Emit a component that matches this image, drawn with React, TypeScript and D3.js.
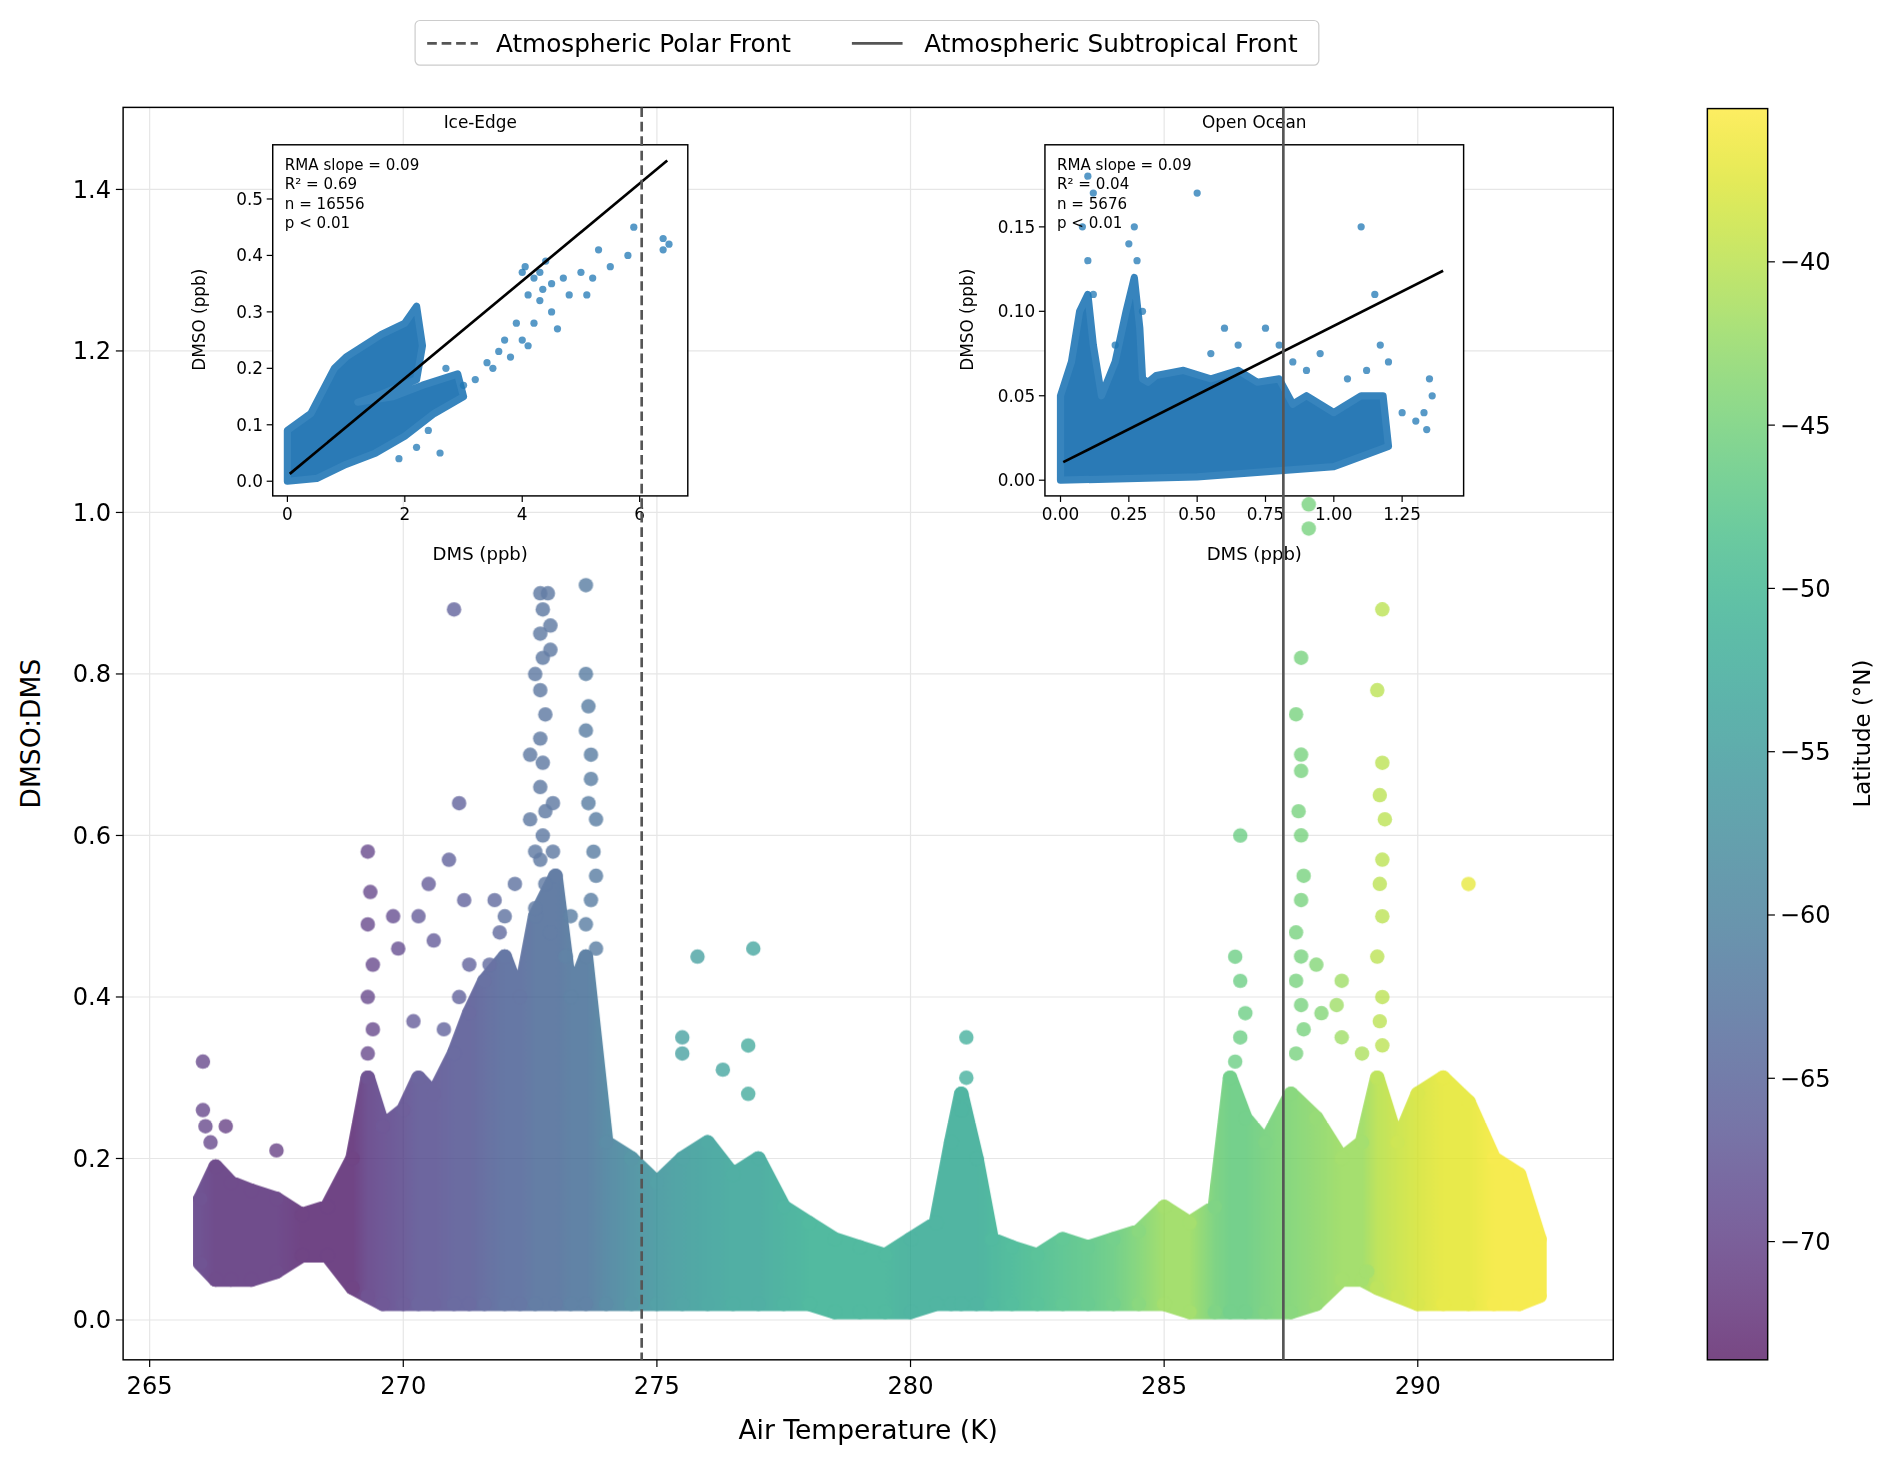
import * as d3 from "d3";

// Dense band of the main scatter: [temperature K, low, high, latitude]
const bandT = [266, 266.3, 266.6, 267, 267.5, 268, 268.5, 269, 269.3, 269.6, 270, 270.3, 270.6, 271, 271.3, 271.6, 272, 272.3, 272.6, 273, 273.3, 273.6, 274, 274.5, 275, 275.5, 276, 276.5, 277, 277.5, 278, 278.5, 279, 279.5, 280, 280.5, 280.8, 281, 281.3, 281.6, 282, 282.5, 283, 283.5, 284, 284.5, 285, 285.5, 286, 286.3, 286.6, 287, 287.5, 288, 288.5, 288.9, 289.2, 289.6, 290, 290.5, 291, 291.5, 292, 292.4];
const bandLow = [0.07, 0.05, 0.05, 0.05, 0.06, 0.08, 0.08, 0.04, 0.03, 0.02, 0.02, 0.02, 0.02, 0.02, 0.02, 0.02, 0.02, 0.02, 0.02, 0.02, 0.02, 0.02, 0.02, 0.02, 0.02, 0.02, 0.02, 0.02, 0.02, 0.02, 0.02, 0.01, 0.01, 0.01, 0.01, 0.02, 0.02, 0.02, 0.02, 0.02, 0.02, 0.02, 0.02, 0.02, 0.02, 0.02, 0.02, 0.01, 0.01, 0.01, 0.01, 0.01, 0.01, 0.02, 0.05, 0.05, 0.04, 0.03, 0.02, 0.02, 0.02, 0.02, 0.02, 0.03];
const bandHigh = [0.15, 0.19, 0.17, 0.16, 0.15, 0.13, 0.14, 0.2, 0.3, 0.24, 0.26, 0.3, 0.28, 0.33, 0.38, 0.42, 0.45, 0.4, 0.5, 0.55, 0.4, 0.45, 0.22, 0.2, 0.17, 0.2, 0.22, 0.18, 0.2, 0.14, 0.12, 0.1, 0.09, 0.08, 0.1, 0.12, 0.22, 0.28, 0.2, 0.1, 0.09, 0.08, 0.1, 0.09, 0.1, 0.11, 0.14, 0.12, 0.14, 0.3, 0.25, 0.22, 0.28, 0.25, 0.2, 0.22, 0.3, 0.22, 0.28, 0.3, 0.27, 0.2, 0.18, 0.1];
const bandLat = [-70, -71, -71, -71, -71, -72, -72, -72, -70, -69, -68, -67, -67, -66, -66, -65, -64, -64, -63, -63, -62, -62, -60, -58, -56, -55, -54, -53, -53, -52, -51, -51, -51, -51, -52, -52, -52, -52, -52, -51, -50, -49, -48, -47, -46, -44, -42, -42, -45, -46, -46, -45, -44, -43, -42, -42, -40, -39, -38, -37, -37, -36, -36, -36];

// Outlying points: [temperature, ratio, latitude]
const outliers: [number, number, number][] = [
  [266.05, 0.32, -70], [266.05, 0.26, -70], [266.1, 0.24, -70], [266.2, 0.22, -70], [266.5, 0.24, -71], [267.5, 0.21, -71],
  [269.3, 0.58, -70], [269.35, 0.53, -70], [269.3, 0.49, -70], [269.4, 0.44, -70], [269.3, 0.4, -70], [269.4, 0.36, -70], [269.3, 0.33, -70],
  [269.8, 0.5, -69], [269.9, 0.46, -69], [270.3, 0.5, -67], [270.5, 0.54, -67], [270.6, 0.47, -67], [270.2, 0.37, -67], [270.8, 0.36, -66],
  [271.0, 0.88, -66], [270.9, 0.57, -66], [271.1, 0.64, -66], [271.2, 0.52, -66], [271.3, 0.44, -66], [271.1, 0.4, -66],
  [271.8, 0.52, -65], [271.9, 0.48, -65], [271.7, 0.44, -65], [272.2, 0.54, -64], [272.0, 0.5, -64],
  [272.5, 0.62, -63], [272.5, 0.7, -63], [272.6, 0.8, -63], [272.7, 0.9, -63], [272.75, 0.88, -63], [272.7, 0.85, -63],
  [272.75, 0.82, -63], [272.7, 0.78, -63], [272.8, 0.75, -63], [272.9, 0.86, -63], [272.85, 0.9, -63], [272.9, 0.83, -63],
  [272.7, 0.72, -63], [272.75, 0.69, -63], [272.7, 0.66, -63], [272.8, 0.63, -63], [272.75, 0.6, -63], [272.7, 0.57, -63], [272.8, 0.54, -63],
  [272.6, 0.51, -63], [272.9, 0.48, -63], [272.95, 0.64, -63], [272.95, 0.58, -63], [272.6, 0.58, -63],
  [273.6, 0.91, -62], [273.6, 0.8, -62], [273.65, 0.76, -62], [273.6, 0.73, -62], [273.7, 0.7, -62], [273.65, 0.64, -62],
  [273.8, 0.62, -62], [273.75, 0.58, -62], [273.8, 0.55, -62], [273.7, 0.52, -62], [273.6, 0.49, -62], [273.8, 0.46, -62], [273.7, 0.67, -62],
  [273.2, 0.45, -62], [273.3, 0.5, -62],
  [275.8, 0.45, -55], [276.9, 0.46, -54], [275.5, 0.35, -55], [275.5, 0.33, -55], [276.8, 0.34, -53], [276.3, 0.31, -54], [276.8, 0.28, -53],
  [281.1, 0.35, -52], [281.1, 0.3, -52], [281.0, 0.26, -52],
  [286.5, 0.6, -46], [286.4, 0.45, -46], [286.5, 0.42, -46], [286.6, 0.38, -46], [286.5, 0.35, -46], [286.4, 0.32, -46],
  [287.7, 0.82, -45], [287.6, 0.75, -45], [287.7, 0.7, -45], [287.7, 0.68, -45], [287.65, 0.63, -45], [287.7, 0.6, -45],
  [287.75, 0.55, -45], [287.7, 0.52, -45], [287.6, 0.48, -45], [287.7, 0.45, -45], [287.85, 0.98, -45], [287.85, 1.01, -45],
  [287.6, 0.42, -45], [287.7, 0.39, -45], [287.75, 0.36, -45], [287.6, 0.33, -45], [288.0, 0.44, -44], [288.1, 0.38, -44],
  [289.3, 0.88, -40], [289.2, 0.78, -40], [289.3, 0.69, -40], [289.25, 0.65, -40], [289.35, 0.62, -40], [289.3, 0.57, -40],
  [289.25, 0.54, -40], [289.3, 0.5, -40], [289.2, 0.45, -40], [289.3, 0.4, -40], [289.25, 0.37, -40], [289.3, 0.34, -40], [291.0, 0.54, -37],
  [288.5, 0.42, -42], [288.4, 0.39, -42], [288.5, 0.35, -42], [289.0, 0.06, -42], [288.9, 0.33, -41],
];

// Ice-Edge inset
const ice1Poly: [number, number][] = [[0, 0], [0, 0.09], [0.4, 0.12], [0.8, 0.2], [1.0, 0.22], [1.3, 0.24], [1.6, 0.26], [2.0, 0.28], [2.2, 0.31], [2.3, 0.24], [2.2, 0.18], [1.5, 0.15], [1.2, 0.14], [1.8, 0.15], [2.3, 0.17], [2.9, 0.19], [3.0, 0.15], [2.5, 0.12], [2.0, 0.08], [1.5, 0.05], [1.0, 0.03], [0.5, 0.005]];
const ice1Pts: [number, number][] = [[3.2, 0.18], [3.5, 0.2], [3.8, 0.22], [4.0, 0.25], [4.2, 0.28], [4.5, 0.3], [4.8, 0.33], [5.0, 0.37], [4.0, 0.37], [4.2, 0.36], [4.5, 0.35], [5.2, 0.36], [5.5, 0.38], [5.8, 0.4], [5.9, 0.45], [6.4, 0.43], [6.5, 0.42], [6.4, 0.41], [5.3, 0.41], [4.3, 0.32], [3.9, 0.28], [3.7, 0.25], [4.6, 0.27], [5.1, 0.33], [2.4, 0.09], [2.6, 0.05], [3.0, 0.17], [3.4, 0.21], [4.4, 0.39], [4.1, 0.33], [2.2, 0.06], [1.9, 0.04], [2.7, 0.2], [4.05, 0.38], [4.3, 0.37], [4.7, 0.36], [4.35, 0.34], [3.6, 0.23], [4.1, 0.24]];
const ice1Fit: [number, number][] = [[0.04, 0.013], [6.47, 0.568]];

// Open Ocean inset
const ice2Poly: [number, number][] = [[0, 0], [0, 0.05], [0.04, 0.07], [0.07, 0.1], [0.1, 0.11], [0.12, 0.08], [0.15, 0.05], [0.2, 0.07], [0.24, 0.1], [0.27, 0.12], [0.29, 0.09], [0.3, 0.06], [0.32, 0.058], [0.35, 0.062], [0.45, 0.065], [0.55, 0.06], [0.65, 0.065], [0.72, 0.058], [0.8, 0.06], [0.85, 0.045], [0.9, 0.05], [1.0, 0.04], [1.1, 0.05], [1.18, 0.05], [1.2, 0.02], [1.0, 0.008], [0.5, 0.002]];
const ice2Pts: [number, number][] = [[0.1, 0.18], [0.12, 0.17], [0.27, 0.15], [0.5, 0.17], [0.1, 0.13], [0.08, 0.15], [0.25, 0.14], [1.1, 0.15], [1.15, 0.11], [1.35, 0.06], [1.33, 0.04], [1.36, 0.05], [1.34, 0.03], [0.75, 0.09], [0.8, 0.08], [0.95, 0.075], [1.17, 0.08], [1.2, 0.07], [0.12, 0.11], [0.3, 0.1], [0.6, 0.09], [0.65, 0.08], [0.2, 0.08], [1.25, 0.04], [1.3, 0.035], [0.9, 0.065], [1.05, 0.06], [0.28, 0.13], [0.55, 0.075], [0.85, 0.07], [1.12, 0.065]];
const ice2Fit: [number, number][] = [[0.01, 0.0107], [1.4, 0.124]];

const xTicks = [265, 270, 275, 280, 285, 290];
const yTicks = [0, 0.2, 0.4, 0.6, 0.8, 1.0, 1.2, 1.4];
const cbTicks = [-40, -45, -50, -55, -60, -65, -70];
const polarFront = 274.7;
const subtropicalFront = 287.35;

const F = "DejaVu Sans, sans-serif";
const L = 102, R = 1337, T = 89, B = 1127;
const x = d3.scaleLinear().domain([265, 290]).range([124, 1175]);
const y = d3.scaleLinear().domain([0, 1.4]).range([1094, 157]);
const lat = d3.scaleLinear().domain([-40, -70]).range([217, 1029]);
const latMin = -73.6, latMax = -35.3;
const color = (v: number) => d3.interpolateViridis((v - latMin) / (latMax - latMin));

function Inset(props: { x0: number; x1: number; xd: [number, number]; yd: [number, number]; xt: number[]; yt: number[]; fmtX: (v: number) => string; fmtY: (v: number) => string; poly: [number, number][]; pts: [number, number][]; fit: [number, number][]; title: string; stats: string[]; ylabX: number }) {
  const sx = d3.scaleLinear().domain(props.xd).range([props.x0, props.x1]);
  const sy = d3.scaleLinear().domain(props.yd).range([411, 120]);
  const line = d3.line<[number, number]>().x(d => sx(d[0])).y(d => sy(d[1]));
  const mid = (props.x0 + props.x1) / 2;
  return (
    <g fontFamily={F}>
      <rect x={props.x0} y={120} width={props.x1 - props.x0} height={291} fill="white" stroke="#000" strokeWidth={1.2} />
      <path d={line(props.poly)! + "Z"} fill="#2a7ab6" stroke="#3784bd" strokeWidth={6} strokeLinejoin="round" />
      {props.pts.map((p, i) => <circle key={i} cx={sx(p[0])} cy={sy(p[1])} r={3} fill="#1f77b4" opacity={0.75} />)}
      <path d={line(props.fit)!} stroke="#000" strokeWidth={2.2} fill="none" />
      {props.xt.map(t => (
        <g key={t}>
          <line x1={sx(t)} x2={sx(t)} y1={411} y2={416} stroke="#000" />
          <text x={sx(t)} y={431} fontSize={14} textAnchor="middle">{props.fmtX(t)}</text>
        </g>
      ))}
      {props.yt.map(t => (
        <g key={t}>
          <line x1={props.x0 - 5} x2={props.x0} y1={sy(t)} y2={sy(t)} stroke="#000" />
          <text x={props.x0 - 8} y={sy(t) + 5} fontSize={14} textAnchor="end">{props.fmtY(t)}</text>
        </g>
      ))}
      <text x={mid} y={106} fontSize={14} textAnchor="middle">{props.title}</text>
      <text x={mid} y={464} fontSize={15} textAnchor="middle">DMS (ppb)</text>
      <text transform={`translate(${props.ylabX},265) rotate(-90)`} fontSize={14} textAnchor="middle">DMSO (ppb)</text>
      {props.stats.map((s, i) => <text key={i} x={props.x0 + 10} y={141 + i * 16} fontSize={12.5}>{s}</text>)}
    </g>
  );
}

export default function App() {
  const area = d3.area<number>().x(i => x(bandT[i])).y0(i => y(bandLow[i])).y1(i => y(bandHigh[i])).curve(d3.curveLinear);
  const idx = bandT.map((_, i) => i);
  const cbScale = d3.range(0, 1.0001, 0.02);
  return (
    <div style={{ position: "absolute", left: 0, top: 0 }}>
      <svg width={1892} height={1466} viewBox="0 0 1568 1215" style={{ display: "block", background: "white" }}>
        <defs>
          <linearGradient id="band" gradientUnits="userSpaceOnUse" x1={x(bandT[0])} x2={x(bandT[bandT.length - 1])} y1={0} y2={0}>
            {bandT.map((t, i) => <stop key={i} offset={(t - bandT[0]) / (bandT[bandT.length - 1] - bandT[0])} stopColor={color(bandLat[i])} />)}
          </linearGradient>
          <linearGradient id="cb" x1={0} x2={0} y1={1} y2={0}>
            {cbScale.map((o, i) => <stop key={i} offset={o} stopColor={d3.interpolateViridis(o)} />)}
          </linearGradient>
          <clipPath id="clip"><rect x={L} y={T} width={R - L} height={B - T} /></clipPath>
        </defs>
        <g fontFamily={F}>
          {xTicks.map(t => <line key={t} x1={x(t)} x2={x(t)} y1={T} y2={B} stroke="#e6e6e6" />)}
          {yTicks.map(t => <line key={t} x1={L} x2={R} y1={y(t)} y2={y(t)} stroke="#e6e6e6" />)}
          <g clipPath="url(#clip)" opacity={0.78}>
            <path d={area(idx)!} fill="url(#band)" stroke="url(#band)" strokeWidth={12} strokeLinejoin="round" />
            {idx.map(i => <circle key={"h" + i} cx={x(bandT[i])} cy={y(bandHigh[i])} r={6} fill={color(bandLat[i])} />)}
            {idx.map(i => <circle key={"l" + i} cx={x(bandT[i])} cy={y(bandLow[i])} r={6} fill={color(bandLat[i])} />)}
            {outliers.map((p, i) => <circle key={i} cx={x(p[0])} cy={y(p[1])} r={6} fill={color(p[2])} opacity={0.85} />)}
          </g>
          <rect x={L} y={T} width={R - L} height={B - T} fill="none" stroke="#000" strokeWidth={1.2} />
          {xTicks.map(t => (
            <g key={t}>
              <line x1={x(t)} x2={x(t)} y1={B} y2={B + 6} stroke="#000" />
              <text x={x(t)} y={B + 28} fontSize={20} textAnchor="middle">{t}</text>
            </g>
          ))}
          {yTicks.map(t => (
            <g key={t}>
              <line x1={L - 6} x2={L} y1={y(t)} y2={y(t)} stroke="#000" />
              <text x={L - 10} y={y(t) + 7} fontSize={20} textAnchor="end">{t.toFixed(1)}</text>
            </g>
          ))}
          <text x={(L + R) / 2} y={1193} fontSize={22} textAnchor="middle">Air Temperature (K)</text>
          <text transform={`translate(33,${(T + B) / 2}) rotate(-90)`} fontSize={22} textAnchor="middle">DMSO:DMS</text>
        </g>
        <Inset x0={226} x1={570} xd={[-0.25, 6.82]} yd={[-0.026, 0.596]} xt={[0, 2, 4, 6]} yt={[0, 0.1, 0.2, 0.3, 0.4, 0.5]}
          fmtX={v => String(v)} fmtY={v => v.toFixed(1)} poly={ice1Poly} pts={ice1Pts} fit={ice1Fit} title="Ice-Edge" ylabX={170}
          stats={["RMA slope = 0.09", "R² = 0.69", "n = 16556", "p < 0.01"]} />
        <Inset x0={866} x1={1213} xd={[-0.057, 1.475]} yd={[-0.0093, 0.1986]} xt={[0, 0.25, 0.5, 0.75, 1.0, 1.25]} yt={[0, 0.05, 0.1, 0.15]}
          fmtX={v => v.toFixed(2)} fmtY={v => v.toFixed(2)} poly={ice2Poly} pts={ice2Pts} fit={ice2Fit} title="Open Ocean" ylabX={806}
          stats={["RMA slope = 0.09", "R² = 0.04", "n = 5676", "p < 0.01"]} />
        <line x1={x(polarFront)} x2={x(polarFront)} y1={T} y2={B} stroke="#555" strokeWidth={2.2} strokeDasharray="8,4" />
        <line x1={x(subtropicalFront)} x2={x(subtropicalFront)} y1={T} y2={B} stroke="#555" strokeWidth={2.2} />
        <g fontFamily={F}>
          <rect x={344} y={17} width={749} height={37} rx={4} fill="white" stroke="#ccc" />
          <line x1={354} x2={396} y1={36} y2={36} stroke="#555" strokeWidth={2.2} strokeDasharray="8,4" />
          <text x={411} y={43} fontSize={20.5}>Atmospheric Polar Front</text>
          <line x1={706} x2={748} y1={36} y2={36} stroke="#555" strokeWidth={2.2} />
          <text x={766} y={43} fontSize={20.5}>Atmospheric Subtropical Front</text>
          <rect x={1415} y={90} width={50} height={1037} fill="url(#cb)" opacity={0.72} />
          <rect x={1415} y={90} width={50} height={1037} fill="none" stroke="#000" strokeWidth={1.2} />
          {cbTicks.map(t => (
            <g key={t}>
              <line x1={1465} x2={1471} y1={lat(t)} y2={lat(t)} stroke="#000" />
              <text x={1475} y={lat(t) + 7} fontSize={20}>{"\u2212" + Math.abs(t)}</text>
            </g>
          ))}
          <text transform="translate(1550,608) rotate(-90)" fontSize={19} textAnchor="middle">Latitude (°N)</text>
        </g>
      </svg>
    </div>
  );
}
